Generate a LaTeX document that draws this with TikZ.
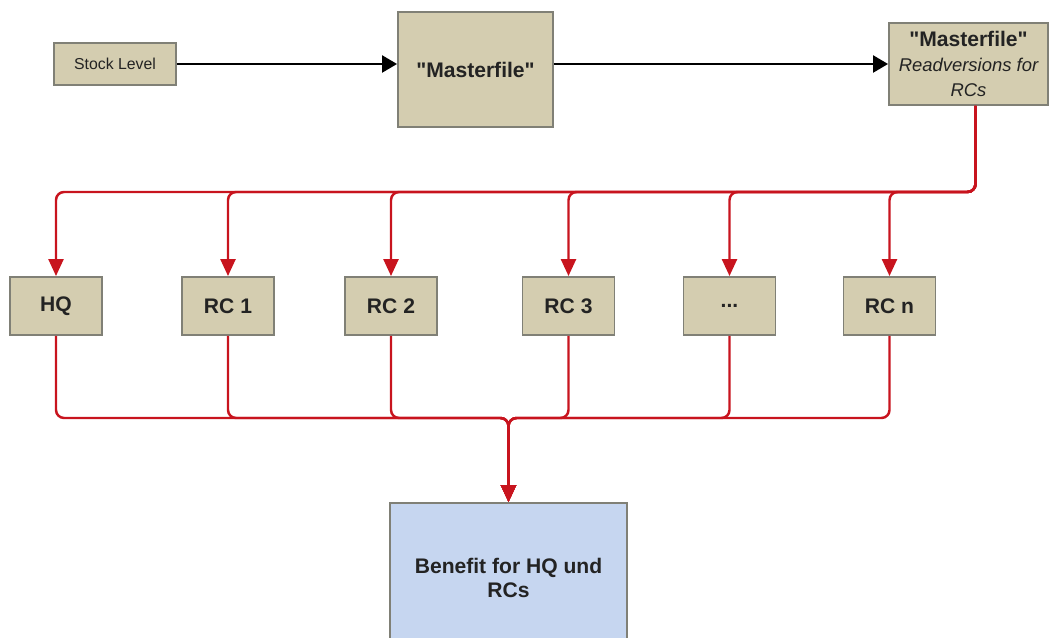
\documentclass[tikz,border=0pt]{standalone}
\usepackage{fontspec}
\setmainfont{Liberation Sans}
\usetikzlibrary{arrows.meta}

\definecolor{boxtan}{RGB}{212,205,176}
\definecolor{boxline}{RGB}{128,128,118}
\definecolor{boxblue}{RGB}{198,214,240}
\definecolor{busred}{RGB}{200,20,30}
\definecolor{textgray}{RGB}{35,35,35}

\newcommand{\subnote}[1]{{\mdseries\itshape\fontsize{10.5}{13}\selectfont #1}}
\newcommand{\mfile}{\textquotedbl Masterfile\textquotedbl}

\begin{document}
\begin{tikzpicture}[x=0.02cm, y=-0.02cm,
    box/.style={draw=boxline, fill=boxtan, line width=1.1pt, text=textgray, align=center,
                inner sep=0pt, font=\bfseries\fontsize{12}{14}\selectfont},
    rowbox/.style={box, minimum width=1.84cm, minimum height=1.16cm},
    flow/.style={-{Triangle[length=0.3cm,width=0.34cm]}, line width=1.3pt},
    feed/.style={-{Triangle[length=0.34cm,width=0.3cm]}, line width=1.4pt,
                 draw=busred, rounded corners=0.16cm}]
    \clip (0,0) rectangle (1049,638);
    \useasboundingbox (0,0) rectangle (1049,638);

    % top row
    \node[box, minimum width=2.44cm, minimum height=0.84cm,
          font=\fontsize{9}{11}\selectfont] (stock) at (115,64) {Stock Level};
    \node[box, minimum width=3.1cm, minimum height=2.3cm] (master) at (475.5,69.5) {\mfile};
    \node[box, minimum width=3.18cm, minimum height=1.64cm] (read) at (968.5,64)
        {\mfile\\\subnote{Readversions for}\\\subnote{RCs}};

    % receivers
    \node[rowbox] (hq)   at (56,306)    {HQ};
    \node[rowbox] (rc1)  at (228,306)   {RC 1};
    \node[rowbox] (rc2)  at (391,306)   {RC 2};
    \node[rowbox] (rc3)  at (568.5,306) {RC 3};
    \node[rowbox] (dots) at (729.5,306) {...};
    \node[rowbox] (rcn)  at (889.5,306) {RC n};

    \node[box, fill=boxblue, minimum width=4.74cm, minimum height=3cm] (benefit) at (508.5,578)
        {Benefit for HQ und\\RCs};

    \coordinate (bus) at (0,192);
    \coordinate (merge) at (0,418);

    \draw[flow] (stock.east) -- (stock.east -| master.west);
    \draw[flow] (master.east |- read.west) -- (read.west);

    \foreach \n in {hq,rc1,rc2,rc3,dots,rcn} {
        \draw[feed] ([xshift=0.14cm]read.south) |- (\n.north |- bus) -- (\n.north);
        \draw[feed] (\n.south) |- (benefit.north |- merge) -- (benefit.north);
    }
\end{tikzpicture}
\end{document}
